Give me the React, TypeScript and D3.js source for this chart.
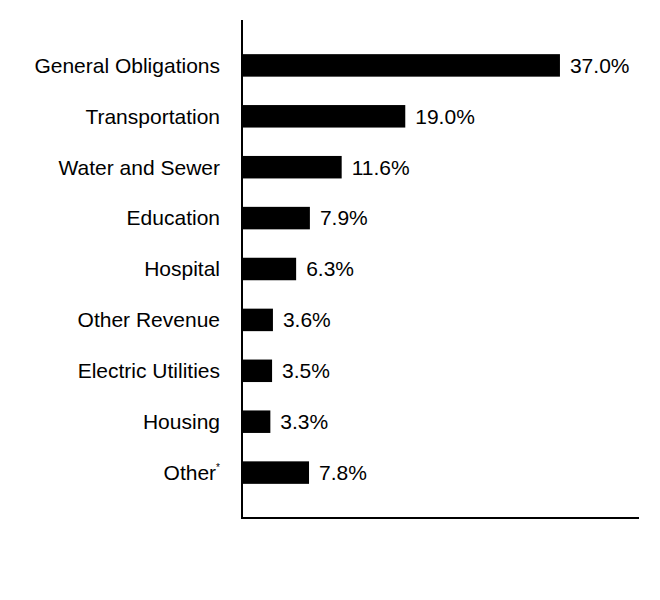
import React from "react";
import * as d3 from "d3";

const categories = [
  "General Obligations",
  "Transportation",
  "Water and Sewer",
  "Education",
  "Hospital",
  "Other Revenue",
  "Electric Utilities",
  "Housing",
  "Other",
];
const values = [37.0, 19.0, 11.6, 7.9, 6.3, 3.6, 3.5, 3.3, 7.8];
const footnoted = ["Other"];

export default function App() {
  const width = 660;
  const height = 600;
  const axisX = 242;
  const axisTop = 20;
  const axisBottom = 518;
  const axisRight = 639;

  const y = d3
    .scaleBand()
    .domain(categories)
    .range([axisTop, axisBottom])
    .paddingInner(0.558)
    .paddingOuter(0.671);

  const x = d3.scaleLinear().domain([0, 46.2]).range([axisX, axisRight]);

  const fontFamily = "'Liberation Sans', Arial, sans-serif";

  return (
    <svg width={width} height={height} style={{ display: "block", margin: "-8px" }}>
      <rect width={width} height={height} fill="#fff" />
      {categories.map((c, i) => {
        const yc = (y(c) as number) + y.bandwidth() / 2;
        return (
          <g key={c}>
            <rect
              x={x(0)}
              y={y(c)}
              width={x(values[i]) - x(0)}
              height={y.bandwidth()}
              fill="#000"
            />
            <text
              x={220}
              y={yc}
              dy="0.35em"
              textAnchor="end"
              fontFamily={fontFamily}
              fontSize={21}
              fill="#000"
            >
              {c}
              {footnoted.includes(c) && (
                <tspan fontSize={10} dy="-0.9em">
                  *
                </tspan>
              )}
            </text>
            <text
              x={x(values[i]) + 10}
              y={yc}
              dy="0.35em"
              fontFamily={fontFamily}
              fontSize={21}
              fill="#000"
            >
              {d3.format(".1f")(values[i]) + "%"}
            </text>
          </g>
        );
      })}
      <line x1={axisX} x2={axisX} y1={axisTop} y2={axisBottom} stroke="#000" strokeWidth={2} />
      <line x1={axisX - 1} x2={axisRight} y1={axisBottom} y2={axisBottom} stroke="#000" strokeWidth={2} />
    </svg>
  );
}
